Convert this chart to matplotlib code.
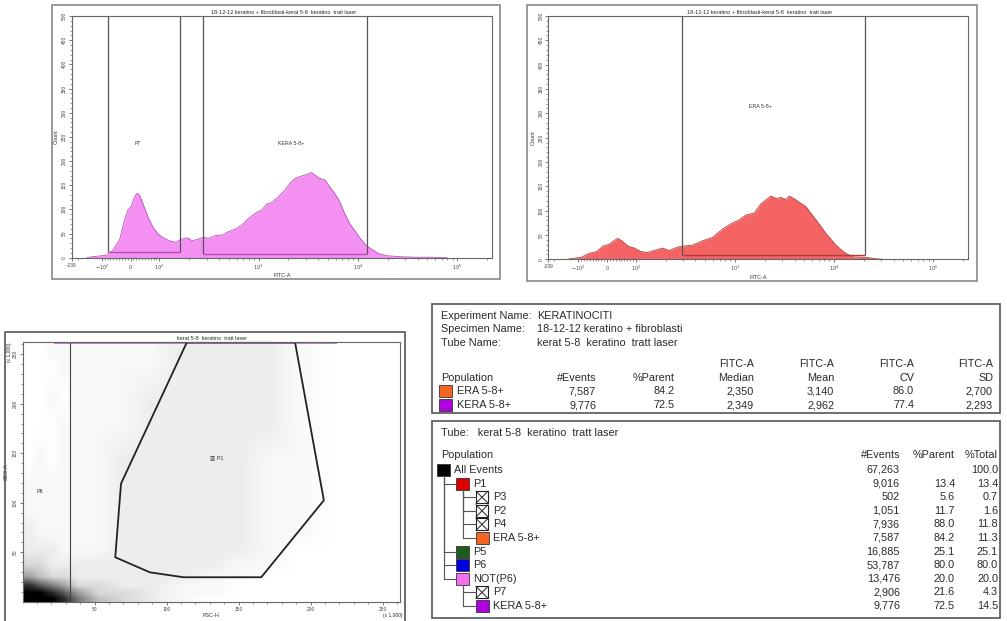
import matplotlib.pyplot as plt
from matplotlib.patches import Rectangle
from matplotlib.lines import Line2D
from matplotlib.colors import PowerNorm
from matplotlib.image import NonUniformImage
import numpy as np

W, H = 1007, 621

# NOT(P6) -> FITC-A histogram
kera_fitc = [-154, -132, -84, -61, -38, -21, -9, 2, 14, 22, 31, 43, 60, 77, 94, 108, 126, 147, 165, 192,
             215, 242, 275, 316, 369, 430, 501, 585, 681, 794, 926, 1080, 1212, 1359, 1585, 1848, 2074, 2326,
             2610, 2929, 3415, 3687, 4137, 4642, 5208, 5843, 6556, 7356, 8254, 9261, 10390, 12115, 14125,
             16470, 19950, 27120, 36870, 54120, 79430]
kera_count = [0, 2, 5, 16, 37, 78, 99, 106, 126, 133, 130, 112, 85, 64, 50, 42, 35, 32, 38, 41,
              35, 38, 42, 40, 46, 47, 54, 59, 68, 81, 92, 99, 111, 114, 126, 140, 154, 164,
              168, 171, 176, 171, 164, 161, 147, 133, 116, 92, 71, 57, 42, 26, 16,
              8, 4, 2, 1, 1, 0]

# P1 -> FITC-A histogram
era_fitc = [-131, -90, -63, -36, -14, 8, 24, 37, 51, 73, 95, 112, 131, 153, 186, 217, 264, 296, 374, 472,
            595, 751, 911, 1106, 1291, 1568, 1831, 2310, 2595, 2915, 3275, 3538, 4132, 5214, 6579, 8303,
            10476, 12720, 15440, 21050, 26560, 31010]
era_count = [1, 4, 12, 16, 27, 31, 38, 43, 38, 27, 23, 16, 14, 18, 23, 18, 25, 27, 29, 38,
             45, 62, 73, 81, 91, 95, 114, 130, 125, 127, 123, 130, 122, 108, 81, 53,
             29, 14, 5, 4, 1, 0]

# interval gates: (low, high, bar height)
p7_gate = (-80, 161, 11)
kera_gate = (275, 12400, 8)
era_gate = (296, 20560, 9)

# FSC-H / SSC-A event density (0 = empty .. 9 = saturated), rows from SSC 0 upward
fsc_edges = [0, 8, 16, 24, 32, 45, 60, 80, 100, 120, 140, 160, 180, 200, 230, 262.1]
ssc_edges = [0, 6, 12, 20, 30, 45, 60, 80, 100, 130, 160, 190, 220, 250, 262.1]
density = [
    [9, 9, 9, 8, 6, 4, 3, 2, 1, 0, 0, 0, 0, 0, 0],
    [9, 9, 8, 7, 5, 3, 3, 2, 1, 1, 0, 0, 0, 0, 0],
    [8, 7, 6, 5, 3, 3, 2, 2, 1, 1, 0, 0, 0, 0, 0],
    [5, 4, 3, 3, 2, 2, 2, 2, 2, 1, 1, 0, 0, 0, 0],
    [3, 3, 2, 2, 2, 2, 2, 2, 2, 2, 1, 1, 0, 0, 0],
    [2, 2, 2, 1, 1, 1, 2, 2, 2, 2, 2, 1, 0, 0, 0],
    [2, 1, 1, 1, 1, 1, 2, 2, 2, 2, 2, 1, 1, 0, 0],
    [1, 1, 1, 1, 1, 1, 2, 2, 2, 2, 2, 1, 1, 0, 0],
    [1, 1, 1, 1, 1, 1, 2, 2, 2, 2, 2, 1, 1, 0, 0],
    [0, 1, 0, 1, 1, 1, 2, 2, 2, 2, 2, 1, 1, 0, 0],
    [0, 0, 0, 1, 1, 1, 1, 2, 2, 2, 2, 2, 1, 0, 0],
    [0, 0, 1, 0, 1, 1, 1, 2, 2, 2, 2, 2, 1, 0, 0],
    [0, 0, 0, 1, 1, 1, 1, 1, 2, 2, 2, 2, 1, 0, 0],
    [0, 0, 1, 1, 1, 1, 1, 1, 2, 2, 2, 2, 1, 0, 0],
]
saturated_fsc = [22, 218]

p1_fsc = [114, 68.3, 64.3, 88.3, 111.7, 165.7, 209.2, 189.2, 114]
p1_ssc = [262, 119.3, 44.9, 29.7, 24.7, 24.7, 102.4, 262, 262]
p6_fsc = 32.6

# statistics view
stat_header = ['#Events', '%Parent', 'Median', 'Mean', 'CV', 'SD']
stat_names = ['ERA 5-8+', 'KERA 5-8+']
stat_colors = ['#f26522', '#b000e0']
stat_values = [['7,587', '84.2', '2,350', '3,140', '86.0', '2,700'],
               ['9,776', '72.5', '2,349', '2,962', '77.4', '2,293']]

# population hierarchy
pop_names = ['All Events', 'P1', 'P3', 'P2', 'P4', 'ERA 5-8+', 'P5', 'P6', 'NOT(P6)', 'P7', 'KERA 5-8+']
pop_level = [0, 1, 2, 2, 2, 2, 1, 1, 1, 2, 2]
pop_colors = ['#000000', '#e00000', None, None, None, '#f26522', '#1c5c1c', '#0000e0', '#f070f0', None, '#b000e0']
pop_events = ['67,263', '9,016', '502', '1,051', '7,936', '7,587', '16,885', '53,787', '13,476', '2,906', '9,776']
pop_parent = ['', '13.4', '5.6', '11.7', '88.0', '84.2', '25.1', '80.0', '20.0', '21.6', '72.5']
pop_total = ['100.0', '13.4', '0.7', '1.6', '11.8', '11.3', '25.1', '80.0', '20.0', '4.3', '14.5']

plt.rcParams['font.family'] = ['Liberation Sans', 'DejaVu Sans']
fig = plt.figure(figsize=(W / 100, H / 100), dpi=100)
TXT = '#2a2a2a'

# biexponential-like display for FITC-A: linear around zero, log above 100,
# negative side compressed
LIN = 0.29
NEG = 0.8


def biex(x):
    x = np.asarray(x, dtype=float)
    a = np.abs(x)
    lg = np.log10(np.maximum(a, 100) / 100)
    return np.where(a <= 100, LIN * x / 100, np.sign(x) * (LIN + lg * np.where(x < 0, NEG, 1.0)))


def biex_inv(y):
    y = np.asarray(y, dtype=float)
    a = np.abs(y)
    k = np.where(y < 0, NEG, 1.0)
    e = np.clip((np.maximum(a, LIN) - LIN) / k, 0, 12)
    return np.where(a <= LIN, y / LIN * 100, np.sign(y) * 100 * 10 ** e)


def fx(x):
    return x / W


def fy(y):
    return 1 - y / H


def px_axes(x0, y0, x1, y1):
    return fig.add_axes([fx(x0), fy(y1), (x1 - x0) / W, (y1 - y0) / H])


def ftext(x, y, s, **kw):
    kw.setdefault('fontsize', 7.8)
    kw.setdefault('color', TXT)
    kw.setdefault('va', 'center')
    fig.text(fx(x), fy(y), s, **kw)


def frect(x0, y0, x1, y1, **kw):
    fig.add_artist(Rectangle((fx(x0), fy(y1)), (x1 - x0) / W, (y1 - y0) / H,
                             transform=fig.transFigure, **kw))


def fline(xs, ys, **kw):
    fig.add_artist(Line2D([fx(x) for x in xs], [fy(y) for y in ys], transform=fig.transFigure, **kw))


def fitc_hist(x0, y0, x1, y1, fitc, count, fill, edge, gates, labels):
    ax = px_axes(x0, y0, x1, y1)
    ax.set_xscale('function', functions=(biex, biex_inv))
    ax.set_xlim(-239, 225000)
    ax.set_ylim(0, 500)
    ax.fill_between(fitc, count, color=fill, lw=0)
    ax.plot(fitc, count, color=edge, lw=0.6)
    for lo, hi, h in gates:
        ax.vlines([lo, hi], h, 500, color='#555555', lw=0.9)
        ax.hlines(h, lo, hi, color=edge, lw=1.0)
    for x, y, s in labels:
        ax.text(x, y, s, fontsize=3.8, ha='center', va='center', color='#333333')
    ax.set_xticks([-239, -100, 0, 100, 1000, 10000, 100000])
    ax.set_xticklabels(['-239', '$-10^2$', '$0$', '$10^2$', '$10^3$', '$10^4$', '$10^5$'])
    minor = [v for v in range(-90, 100, 10) if v != 0]
    minor += [m * 10 ** k for k in (2, 3, 4) for m in range(2, 10)] + [-200, 200000]
    ax.set_xticks(minor, minor=True)
    ax.set_yticks(range(0, 501, 50))
    ax.set_yticks(range(0, 501, 10), minor=True)
    ax.tick_params(labelsize=3.5, length=2.5, width=0.5, pad=1, colors='#444444')
    ax.tick_params(which='minor', length=1.5, width=0.4, colors='#444444')
    for lab in ax.get_yticklabels():
        lab.set_rotation(90)
        lab.set_va('center')
    for sp in ax.spines.values():
        sp.set_color('#666666')
        sp.set_linewidth(0.8)
    ax.set_xlabel('FITC-A', fontsize=4, labelpad=1, color='#333333')
    ax.set_ylabel('Count', fontsize=4, labelpad=2, color='#333333')
    return ax


# histogram panels
frect(52, 5, 500, 279, fill=False, ec='#888888', lw=1.2)
fitc_hist(71.7, 16, 492, 257.7, kera_fitc, kera_count, '#f490f2', '#b452b4',
          [p7_gate, kera_gate], [(25, 237, 'P7'), (2150, 237, 'KERA 5-8+')])
ftext(284, 12, '18-12-12 keratino + fibroblasti-kerat 5-8  keratino  tratt laser', fontsize=4, ha='center')

frect(527, 5, 977, 281, fill=False, ec='#888888', lw=1.2)
fitc_hist(548.3, 16, 968, 259.3, era_fitc, era_count, '#f46464', '#b83a3a',
          [era_gate], [(1800, 315, 'ERA 5-8+')])
ftext(760, 12, '18-12-12 keratino + fibroblasti-kerat 5-8  keratino  tratt laser', fontsize=4, ha='center')

# FSC-H vs SSC-A dot plot
frect(5, 332, 405, 624, fill=False, ec='#555555', lw=1.2)
ax = px_axes(22.7, 342.3, 400, 601.7)
fe = np.array(fsc_edges)
se = np.array(ssc_edges)
im = NonUniformImage(ax, interpolation='bilinear', extent=(0, 262.1, 0, 262.1),
                     cmap='Greys', norm=PowerNorm(1.3, vmin=0, vmax=9))
im.set_data((fe[:-1] + fe[1:]) / 2, (se[:-1] + se[1:]) / 2, np.array(density, dtype=float))
ax.add_image(im)
ax.plot(saturated_fsc, [261.5, 261.5], color='#b070c0', lw=1.2, solid_capstyle='butt')
ax.plot(p1_fsc, p1_ssc, color='#222222', lw=1.3)
ax.axvline(p6_fsc, color='#444444', lw=0.8)
ax.text(12, 111, 'P6', fontsize=4, ha='center', va='center', color='#333333')
ax.text(135, 146, '▥ P1', fontsize=4, ha='center', va='center', color='#333333')
ax.set_xlim(0, 262.1)
ax.set_ylim(0, 262.1)
ax.set_xticks(range(50, 251, 50))
ax.set_xticks(range(10, 261, 10), minor=True)
ax.set_yticks(range(50, 251, 50))
ax.set_yticks(range(10, 261, 10), minor=True)
ax.tick_params(labelsize=3.5, length=2.5, width=0.5, pad=1, colors='#444444')
ax.tick_params(which='minor', length=1.5, width=0.4, colors='#444444')
for lab in ax.get_yticklabels():
    lab.set_rotation(90)
    lab.set_va('center')
for sp in ax.spines.values():
    sp.set_color('#666666')
    sp.set_linewidth(0.8)
ax.set_xlabel('FSC-H', fontsize=4, labelpad=1, color='#333333')
ax.set_ylabel('SSC-A', fontsize=4, labelpad=3, color='#333333')
ftext(212, 339, 'kerat 5-8  keratino  tratt laser', fontsize=4, ha='center')
ftext(393, 616, '(x 1,000)', fontsize=3.5, ha='center')
ftext(9, 352, '(x 1,000)', fontsize=3.5, ha='center', rotation=90)

# statistics table
frect(432, 304, 1000, 413, fill=False, ec='#555555', lw=1.2)
ftext(441, 316, 'Experiment Name:')
ftext(537, 316, 'KERATINOCITI')
ftext(441, 329, 'Specimen Name:')
ftext(537, 329, '18-12-12 keratino + fibroblasti')
ftext(441, 343, 'Tube Name:')
ftext(537, 343, 'kerat 5-8  keratino  tratt laser')
stat_right = [596, 675, 754, 834, 914, 993]
ftext(441, 378, 'Population')
for i, (xr, head) in enumerate(zip(stat_right, stat_header)):
    ftext(xr, 378, head, ha='right')
    if i >= 2:
        ftext(xr, 364, 'FITC-A', ha='right')
for r, (name, col, vals) in enumerate(zip(stat_names, stat_colors, stat_values)):
    y = 391 + 14 * r
    frect(439, y - 6, 452, y + 6, fc=col, ec='#333333', lw=0.6)
    ftext(457, y, name)
    for xr, v in zip(stat_right, vals):
        ftext(xr, y, v, ha='right')

# hierarchy table
frect(432, 421, 1000, 618, fill=False, ec='#555555', lw=1.2)
ftext(441, 433, 'Tube:   kerat 5-8  keratino  tratt laser')
ftext(441, 455, 'Population')
ftext(900, 455, '#Events', ha='right')
ftext(955, 455, '%Parent', ha='right')
ftext(998, 455, '%Total', ha='right')

level_x = [437, 456, 476]
row_y = [470 + 13.6 * i for i in range(len(pop_names))]
for i, name in enumerate(pop_names):
    lv = pop_level[i]
    y = row_y[i]
    x0 = level_x[lv]
    # connector to parent node
    if lv > 0:
        p = max(j for j in range(i) if pop_level[j] == lv - 1)
        cx = level_x[lv - 1] + 6.5
        fline([cx, cx], [row_y[p] + 6, y], color='#555555', lw=0.8)
        fline([cx, x0], [y, y], color='#555555', lw=0.8)
    if pop_colors[i] is None:
        frect(x0, y - 6, x0 + 12, y + 6, fc='white', ec='#222222', lw=0.8)
        fline([x0, x0 + 12], [y - 6, y + 6], color='#222222', lw=0.7)
        fline([x0, x0 + 12], [y + 6, y - 6], color='#222222', lw=0.7)
    else:
        frect(x0, y - 6, x0 + 13, y + 6, fc=pop_colors[i], ec='#333333', lw=0.6)
    ftext(x0 + 17, y, name)
    ftext(900, y, pop_events[i], ha='right')
    ftext(955, y, pop_parent[i], ha='right')
    ftext(998, y, pop_total[i], ha='right')

fig.savefig('out.png', dpi=100)
